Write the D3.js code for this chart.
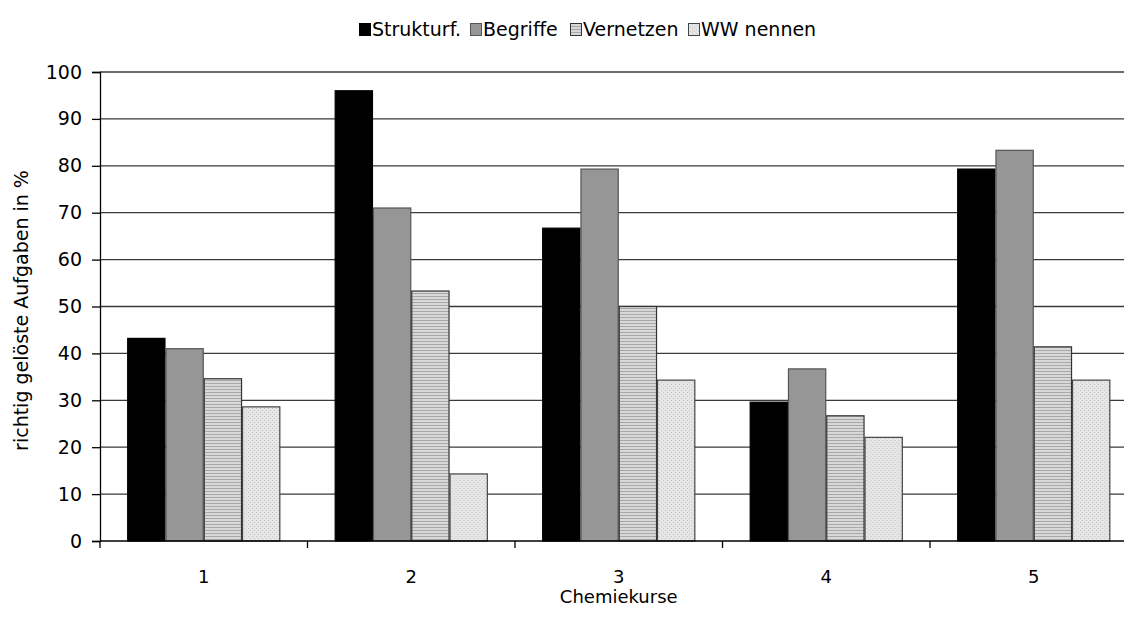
<!DOCTYPE html>
<html>
<head>
<meta charset="utf-8">
<script src="https://cdn.jsdelivr.net/npm/d3@7"></script>
<style>
  body { margin: 0; background: #fff; }
  text { font-family: "DejaVu Sans", sans-serif; fill: #000; }
</style>
</head>
<body>
<script>
// Chart values
const kurse = ["1", "2", "3", "4", "5"];
const serien = ["Strukturf.", "Begriffe", "Vernetzen", "WW nennen"];
const strukturf = [43.2, 96.0, 66.7, 29.6, 79.3];
const begriffe = [41.0, 71.0, 79.3, 36.7, 83.3];
const vernetzen = [34.6, 53.3, 50.0, 26.7, 41.4];
const wwNennen = [28.6, 14.3, 34.3, 22.1, 34.3];
const yTicks = [0, 10, 20, 30, 40, 50, 60, 70, 80, 90, 100];

const werte = [strukturf, begriffe, vernetzen, wwNennen];

const W = 1124, H = 628;
const mLeft = 100, mTop = 72, mBottom = 541;
const mRight = mLeft + 5 * 207.5; // plot runs past the window edge

const svg = d3.select("body").append("svg").attr("width", W).attr("height", H);

// patterns for the two lighter series
const defs = svg.append("defs");
const stripes = defs.append("pattern").attr("id", "stripes")
  .attr("patternUnits", "userSpaceOnUse").attr("width", 4).attr("height", 3);
stripes.append("rect").attr("width", 4).attr("height", 3).attr("fill", "#d8d8d8");
stripes.append("rect").attr("y", 2).attr("width", 4).attr("height", 1).attr("fill", "#a8a8a8");

const dots = defs.append("pattern").attr("id", "dots")
  .attr("patternUnits", "userSpaceOnUse").attr("width", 4).attr("height", 4);
dots.append("rect").attr("width", 4).attr("height", 4).attr("fill", "#e6e6e6");
dots.append("rect").attr("x", 0).attr("y", 0).attr("width", 1).attr("height", 1).attr("fill", "#c6c6c6");
dots.append("rect").attr("x", 2).attr("y", 2).attr("width", 1).attr("height", 1).attr("fill", "#c6c6c6");

const fills = ["#000000", "#969696", "url(#stripes)", "url(#dots)"];
const strokes = ["#000000", "#555555", "#333333", "#444444"];

const x0 = d3.scaleBand().domain(kurse).range([mLeft, mRight]).paddingInner(0).paddingOuter(0);
const x1 = d3.scaleBand().domain(serien).range([0, x0.bandwidth()]).paddingOuter(0.71).paddingInner(0);
const y = d3.scaleLinear().domain([0, 100]).range([mBottom, mTop]);

// gridlines
svg.append("g").selectAll("line").data(yTicks.filter(d => d > 0)).join("line")
  .attr("x1", mLeft).attr("x2", mRight)
  .attr("y1", d => y(d)).attr("y2", d => y(d))
  .attr("stroke", "#3a3a3a").attr("stroke-width", 1.3);

// bars
const groups = svg.append("g").selectAll("g").data(kurse).join("g")
  .attr("transform", d => `translate(${x0(d)},0)`);

groups.selectAll("rect")
  .data((k, i) => serien.map((s, j) => ({ s, j, v: werte[j][i] })))
  .join("rect")
  .attr("x", d => x1(d.s) + 0.5)
  .attr("y", d => y(d.v))
  .attr("width", x1.bandwidth() - 1)
  .attr("height", d => y(0) - y(d.v))
  .attr("fill", d => fills[d.j])
  .attr("stroke", d => strokes[d.j])
  .attr("stroke-width", 1.2);

// y axis
const yAxis = svg.append("g").attr("transform", `translate(${mLeft},0)`)
  .call(d3.axisLeft(y).tickValues(yTicks).tickSize(8).tickPadding(10));
yAxis.select(".domain").attr("stroke", "#000").attr("stroke-width", 1.3);
yAxis.selectAll(".tick line").attr("stroke", "#000").attr("stroke-width", 1.3);
yAxis.selectAll("text").attr("font-size", 19).attr("font-family", "DejaVu Sans");

// x axis with ticks between groups
const xAxis = svg.append("g").attr("transform", `translate(0,${mBottom})`);
xAxis.append("line").attr("x1", mLeft).attr("x2", mRight)
  .attr("stroke", "#000").attr("stroke-width", 1.3);
xAxis.selectAll("line.tk").data(kurse).join("line").attr("class", "tk")
  .attr("x1", d => x0(d)).attr("x2", d => x0(d))
  .attr("y1", 0).attr("y2", 7)
  .attr("stroke", "#000").attr("stroke-width", 1.3);
xAxis.selectAll("text").data(kurse).join("text")
  .attr("x", d => x0(d) + x0.bandwidth() / 2)
  .attr("y", 42)
  .attr("text-anchor", "middle")
  .attr("font-size", 18)
  .text(d => d);

// axis titles
svg.append("text").attr("x", (mLeft + mRight) / 2).attr("y", 603)
  .attr("text-anchor", "middle").attr("font-size", 18).text("Chemiekurse");
svg.append("text")
  .attr("transform", `translate(28,${(mTop + mBottom) / 2 + 4}) rotate(-90)`)
  .attr("text-anchor", "middle").attr("font-size", 19)
  .text("richtig gelöste Aufgaben in %");

// legend
const legX = [359, 470, 570, 688];
const leg = svg.append("g").selectAll("g").data(serien).join("g")
  .attr("transform", (d, i) => `translate(${legX[i]},21)`);
leg.append("rect").attr("x", 0.5).attr("y", 2.5).attr("width", 11).attr("height", 12)
  .attr("fill", (d, i) => fills[i]).attr("stroke", (d, i) => strokes[i]).attr("stroke-width", 1);
leg.append("text").attr("x", 13).attr("y", 15).attr("font-size", 19).text(d => d);
</script>
</body>
</html>
